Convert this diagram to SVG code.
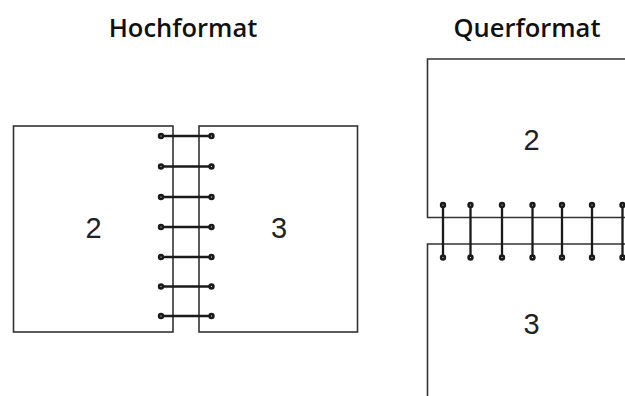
<svg xmlns="http://www.w3.org/2000/svg" width="625" height="396" viewBox="0 0 625 396">
<style>
.title{font-family:"Open Sans","Liberation Sans",sans-serif;font-weight:600;font-size:25.5px;fill:#111;text-anchor:middle}
.num{font-family:"Liberation Sans",Arial,sans-serif;font-size:29px;fill:#222;text-anchor:middle}
.page{fill:none;stroke:#333;stroke-width:1.6}
.bind{stroke:#1a1a1a;stroke-width:2.3;fill:none}
.dot{fill:#fff;stroke:#1a1a1a;stroke-width:2.6}
</style>
<rect width="625" height="396" fill="#fff"/>
<text class="title" x="183" y="37">Hochformat</text>
<text class="title" x="527" y="37">Querformat</text>
<g id="portrait-page-2">
<rect class="page" x="13.5" y="126" width="159.5" height="206"/>
<text class="num" x="93.5" y="238">2</text>
</g>
<g id="portrait-page-3">
<rect class="page" x="199" y="126" width="158.5" height="206"/>
<text class="num" x="279" y="238">3</text>
</g>
<g id="landscape-page-2">
<path class="page" d="M627 59 H427.5 V217.5 H627"/>
<text class="num" x="531.5" y="150">2</text>
</g>
<g id="landscape-page-3">
<path class="page" d="M627 244 H427.5 V398"/>
<text class="num" x="531.5" y="334">3</text>
</g>
<g id="connectors">
<g class="bind">
<path d="M161 136H211.5M161 166.5H211.5M161 197H211.5M161 227H211.5M161 257H211.5M161 286.5H211.5M161 316H211.5"/>
<path d="M443 205V257.5M470.5 205V257.5M502 205V257.5M532.5 205V257.5M562 205V257.5M592 205V257.5M622.5 205V257.5"/>
</g>
<g class="dot">
<circle cx="161" cy="136" r="1.9"/><circle cx="211.5" cy="136" r="1.9"/>
<circle cx="161" cy="166.5" r="1.9"/><circle cx="211.5" cy="166.5" r="1.9"/>
<circle cx="161" cy="197" r="1.9"/><circle cx="211.5" cy="197" r="1.9"/>
<circle cx="161" cy="227" r="1.9"/><circle cx="211.5" cy="227" r="1.9"/>
<circle cx="161" cy="257" r="1.9"/><circle cx="211.5" cy="257" r="1.9"/>
<circle cx="161" cy="286.5" r="1.9"/><circle cx="211.5" cy="286.5" r="1.9"/>
<circle cx="161" cy="316" r="1.9"/><circle cx="211.5" cy="316" r="1.9"/>
<circle cx="443" cy="205" r="1.9"/><circle cx="443" cy="257.5" r="1.9"/>
<circle cx="470.5" cy="205" r="1.9"/><circle cx="470.5" cy="257.5" r="1.9"/>
<circle cx="502" cy="205" r="1.9"/><circle cx="502" cy="257.5" r="1.9"/>
<circle cx="532.5" cy="205" r="1.9"/><circle cx="532.5" cy="257.5" r="1.9"/>
<circle cx="562" cy="205" r="1.9"/><circle cx="562" cy="257.5" r="1.9"/>
<circle cx="592" cy="205" r="1.9"/><circle cx="592" cy="257.5" r="1.9"/>
<circle cx="622.5" cy="205" r="1.9"/><circle cx="622.5" cy="257.5" r="1.9"/>
</g>
</g>
</svg>
